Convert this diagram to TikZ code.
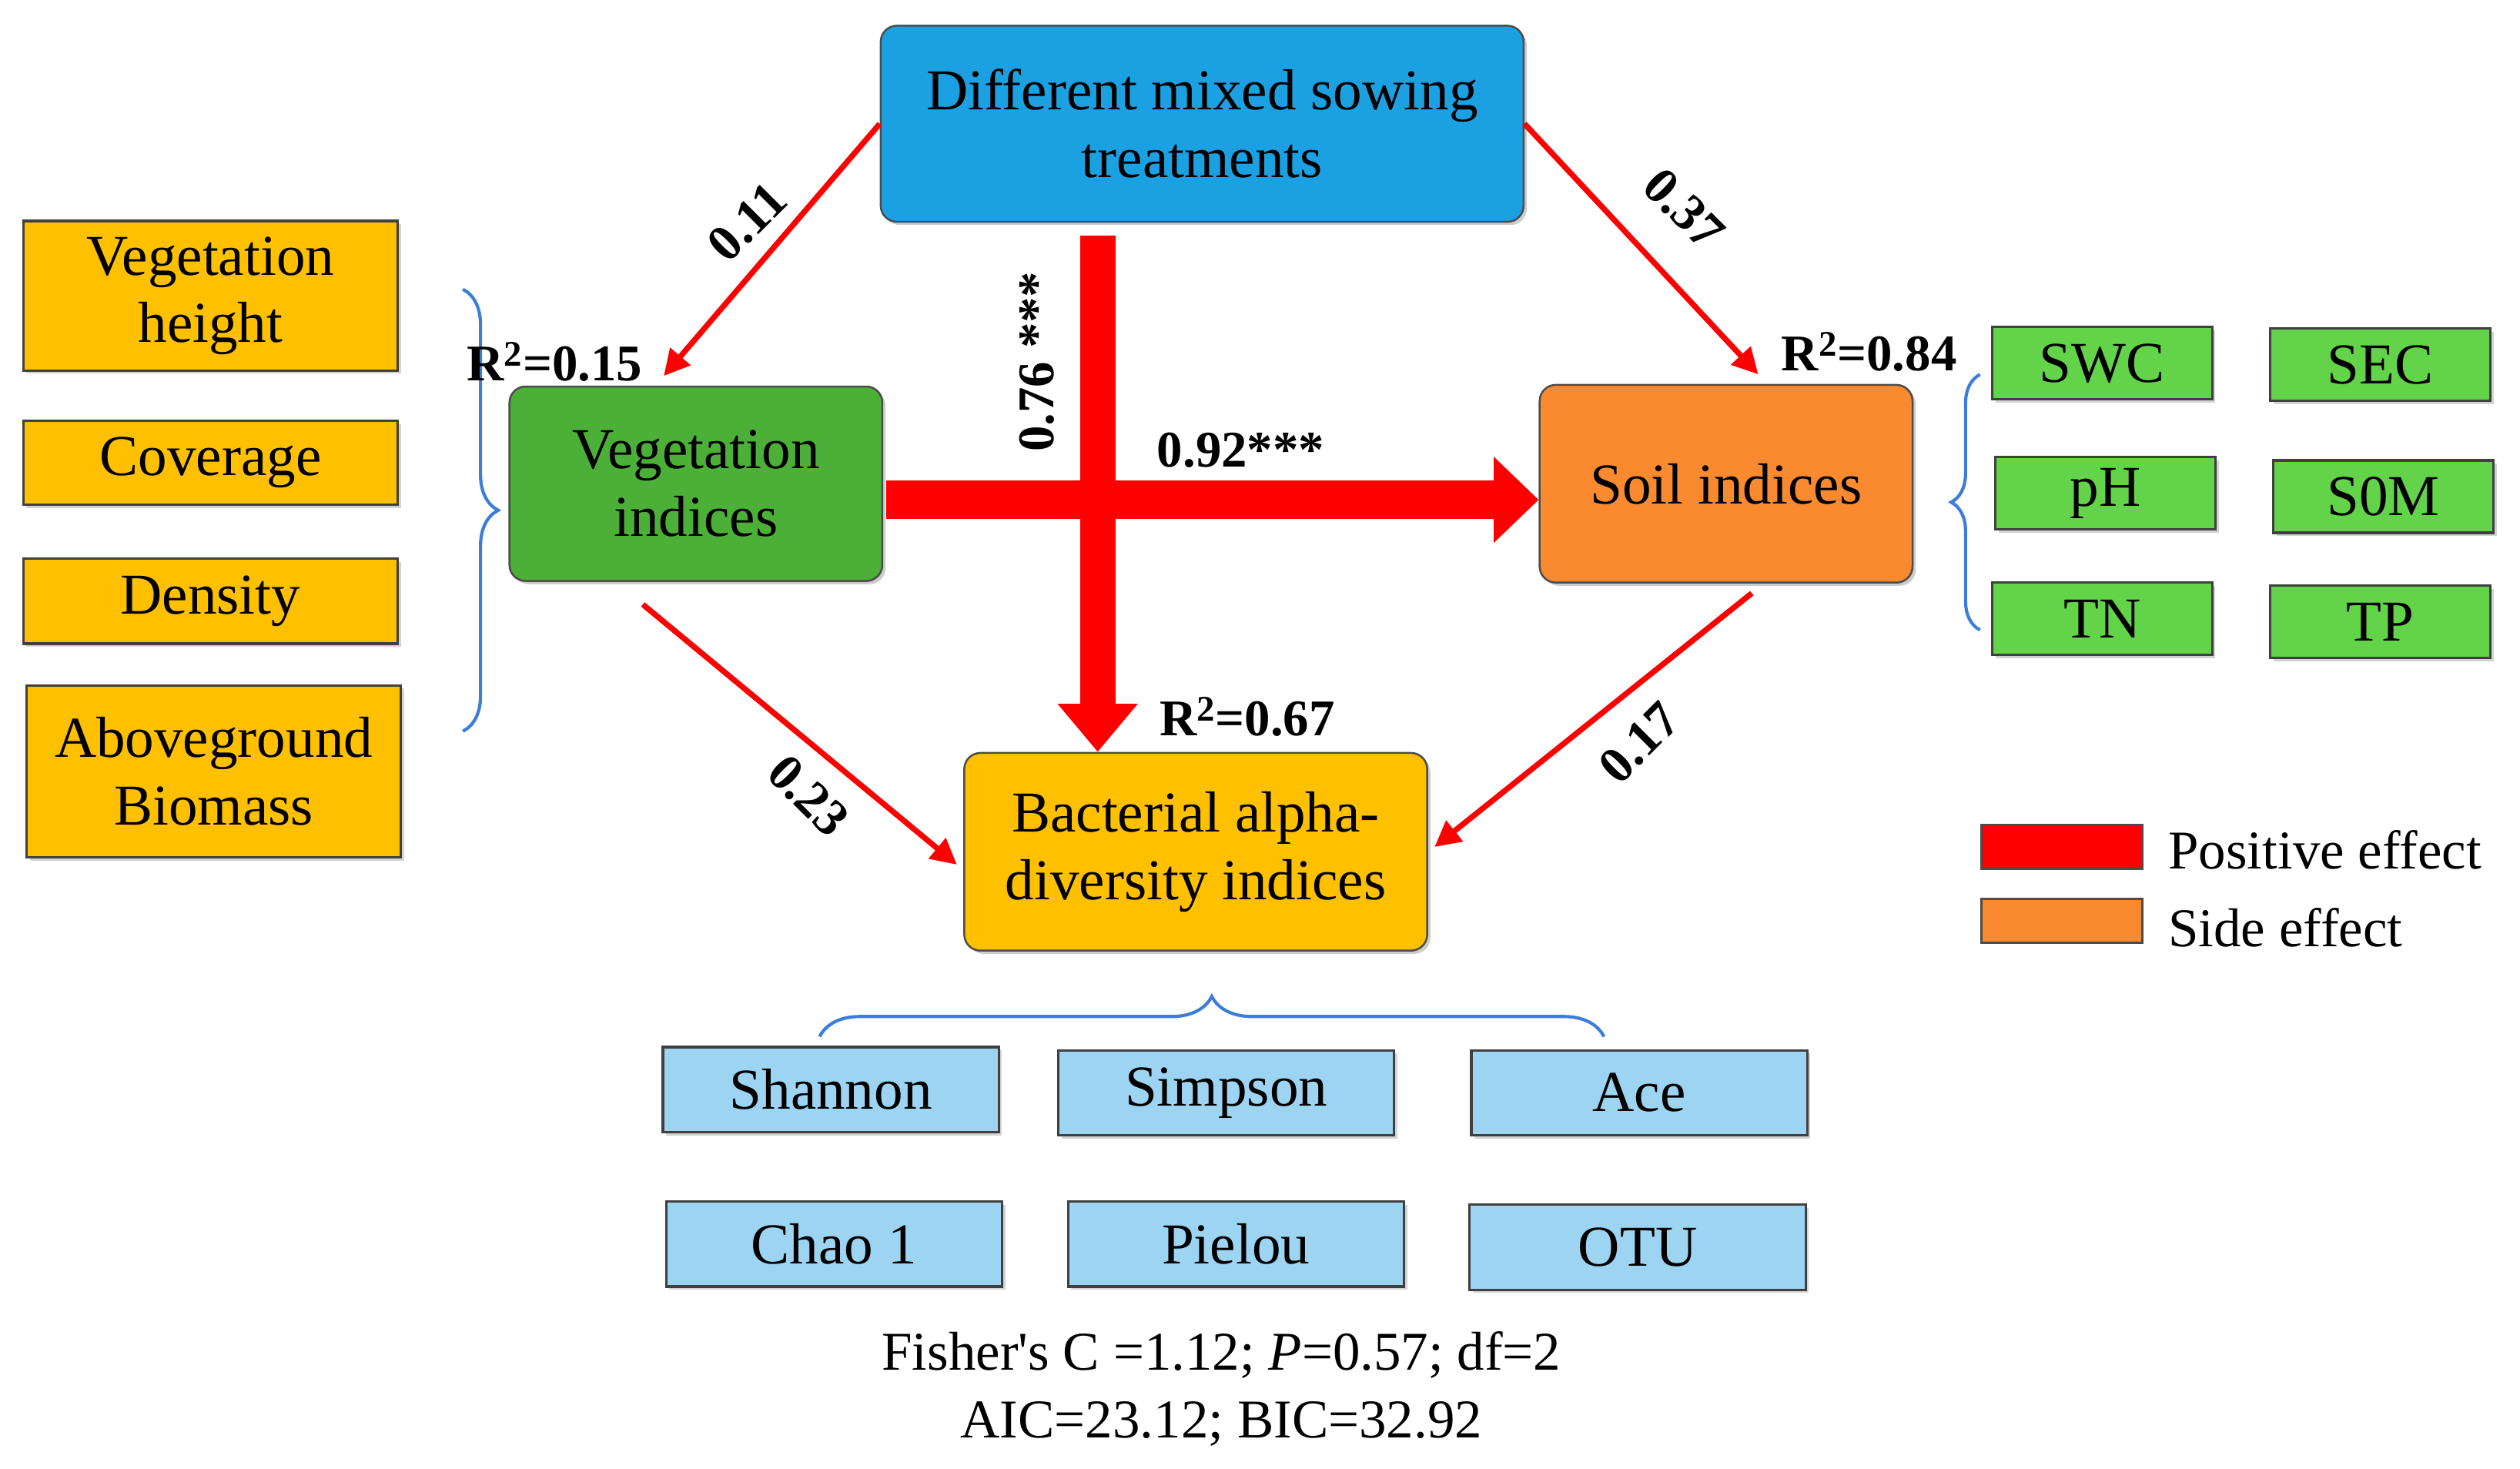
\documentclass[tikz,border=0pt]{standalone}
\usepackage{fontspec}
\setmainfont{Liberation Serif}
\usetikzlibrary{arrows.meta,decorations.pathreplacing,shadows,calc}
\definecolor{topblue}{HTML}{1BA1E2}
\definecolor{vgreen}{HTML}{4CAF38}
\definecolor{sorange}{HTML}{F98A2F}
\definecolor{gold}{HTML}{FFC000}
\definecolor{sgreen}{HTML}{63D34A}
\definecolor{lblue}{HTML}{9DD4F2}
\definecolor{bracec}{HTML}{3C7DD9}
\definecolor{arrred}{HTML}{FF0000}
\begin{document}
\begin{tikzpicture}[x=1pt,y=-1pt,
  big/.style={draw=black!70,line width=1.2pt,rounded corners=10pt,align=center,font=\fontsize{36}{42}\selectfont,drop shadow={shadow xshift=2pt,shadow yshift=-2pt,opacity=.4}},
  sq/.style={draw=black!75,line width=1.5pt,align=center,font=\fontsize{36}{42}\selectfont,drop shadow={shadow xshift=2pt,shadow yshift=-2pt,opacity=.35}},
  gbox/.style={sq,fill=gold,minimum width=233pt},
  sbox/.style={sq,fill=sgreen,minimum width=137pt,minimum height=45pt,inner sep=1pt},
  bbox/.style={sq,fill=lblue,minimum width=209pt,minimum height=53pt,inner sep=1pt},
  thin/.style={draw=arrred,line width=3.5pt,-{Triangle[length=16pt,width=16pt]}},
  lab/.style={font=\bfseries\fontsize{32}{36}\selectfont,inner sep=1pt},
  br/.style={draw=bracec,line width=2pt,decorate}]
\useasboundingbox (0,0) rectangle (1568,914);
\node[big,fill=topblue,minimum width=400pt,minimum height=122pt] (top) at (748,77) {Different mixed sowing\\treatments};
\node[big,fill=vgreen,minimum width=232pt,minimum height=121pt] (veg) at (433,301) {Vegetation\\indices};
\node[big,fill=sorange,minimum width=232pt,minimum height=123pt] (soil) at (1074,301) {Soil indices};
\node[big,fill=gold,minimum width=288pt,minimum height=123pt] (bact) at (744,530) {Bacterial alpha-\\diversity indices};
\node[gbox,minimum height=93pt] (vh) at (131,184) {Vegetation\\height};
\node[gbox,minimum height=52pt] (cov) at (131,288) {Coverage};
\node[gbox,minimum height=53pt] (den) at (131,374) {Density};
\node[gbox,minimum height=107pt] (agb) at (133,480) {Aboveground\\Biomass};
\node[sbox] (swc) at (1308,226) {SWC};
\node[sbox] (sec) at (1481,227) {SEC};
\node[sbox] (ph) at (1310,307) {pH};
\node[sbox] (som) at (1483,309) {S0M};
\node[sbox] (tn) at (1308,385) {TN};
\node[sbox] (tp) at (1481,387) {TP};
\node[bbox] (sha) at (517,678) {Shannon};
\node[bbox] (sim) at (763,680) {Simpson};
\node[bbox] (ace) at (1020,680) {Ace};
\node[bbox] (cha) at (519,774) {Chao 1};
\node[bbox] (pie) at (769,774) {Pielou};
\node[bbox] (otu) at (1019,776) {OTU};
% braces
\coordinate (lb1) at (288,180); \coordinate (lb2) at (288,455);
\draw[br,decoration={brace,amplitude=22pt}] (lb1) -- (lb2);
\coordinate (rb1) at (1232,392); \coordinate (rb2) at (1232,233);
\draw[br,decoration={brace,amplitude=18pt}] (rb1) -- (rb2);
\coordinate (bb1) at (510,645); \coordinate (bb2) at (998,645);
\draw[br,decoration={brace,amplitude=25pt}] (bb1) -- (bb2);
% thick arrows
\draw[draw=arrred,line width=24pt,-{Triangle[length=28pt,width=52pt]}] ($(veg.east)+(2,10)$) -- ($(soil.west)+(0,10)$);
\coordinate (vs) at ($(top.south)+(-65,8)$);
\coordinate (ve) at ($(bact.north)+(-61,0)$);
\draw[draw=arrred,line width=22pt,-{Triangle[length=30pt,width=48pt]}] (vs) -- (ve);
% thin arrows
\draw[thin] (top.west) -- ($(veg.north)+(-20,-6)$);
\draw[thin] (top.east) -- ($(soil.north)+(20,-6)$);
\draw[thin] ($(veg.south)+(-33,14)$) -- ($(bact.west)+(-4,8)$);
\draw[thin] ($(soil.south)+(16,6)$) -- ($(bact.east)+(4,-3)$);
% labels
\node[lab,rotate=45] at (465,138) {0.11};
\node[lab,rotate=-45] at (1048,130) {0.37};
\node[lab,rotate=-45] at (503,495) {0.23};
\node[lab,rotate=45] at (1020,462) {0.17};
\node[lab,rotate=90] at (645,225) {0.76 ***};
\node[lab] at (772,280) {0.92***};
\node[lab] at (345,225) {R\textsuperscript{2}=0.15};
\node[lab] at (1163,219) {R\textsuperscript{2}=0.84};
\node[lab] at (776,446) {R\textsuperscript{2}=0.67};
% legend
\node[draw=black!70,line width=1.5pt,fill=arrred,minimum width=100pt,minimum height=27pt,inner sep=0] (lp) at (1283,527) {};
\node[draw=black!70,line width=1.5pt,fill=sorange,minimum width=100pt,minimum height=27pt,inner sep=0] (ls) at (1283,573) {};
\node[anchor=west,font=\fontsize{34}{38}\selectfont,inner sep=2pt] at (1347,529) {Positive effect};
\node[anchor=west,font=\fontsize{34}{38}\selectfont,inner sep=2pt] at (1347,577) {Side effect};
% footer
\node[font=\fontsize{34}{38}\selectfont] at (760,843) {Fisher\textquotesingle s C =1.12; \textit{P}=0.57; df=2};
\node[font=\fontsize{34}{38}\selectfont] at (760,886) {AIC=23.12; BIC=32.92};
\end{tikzpicture}
\end{document}
